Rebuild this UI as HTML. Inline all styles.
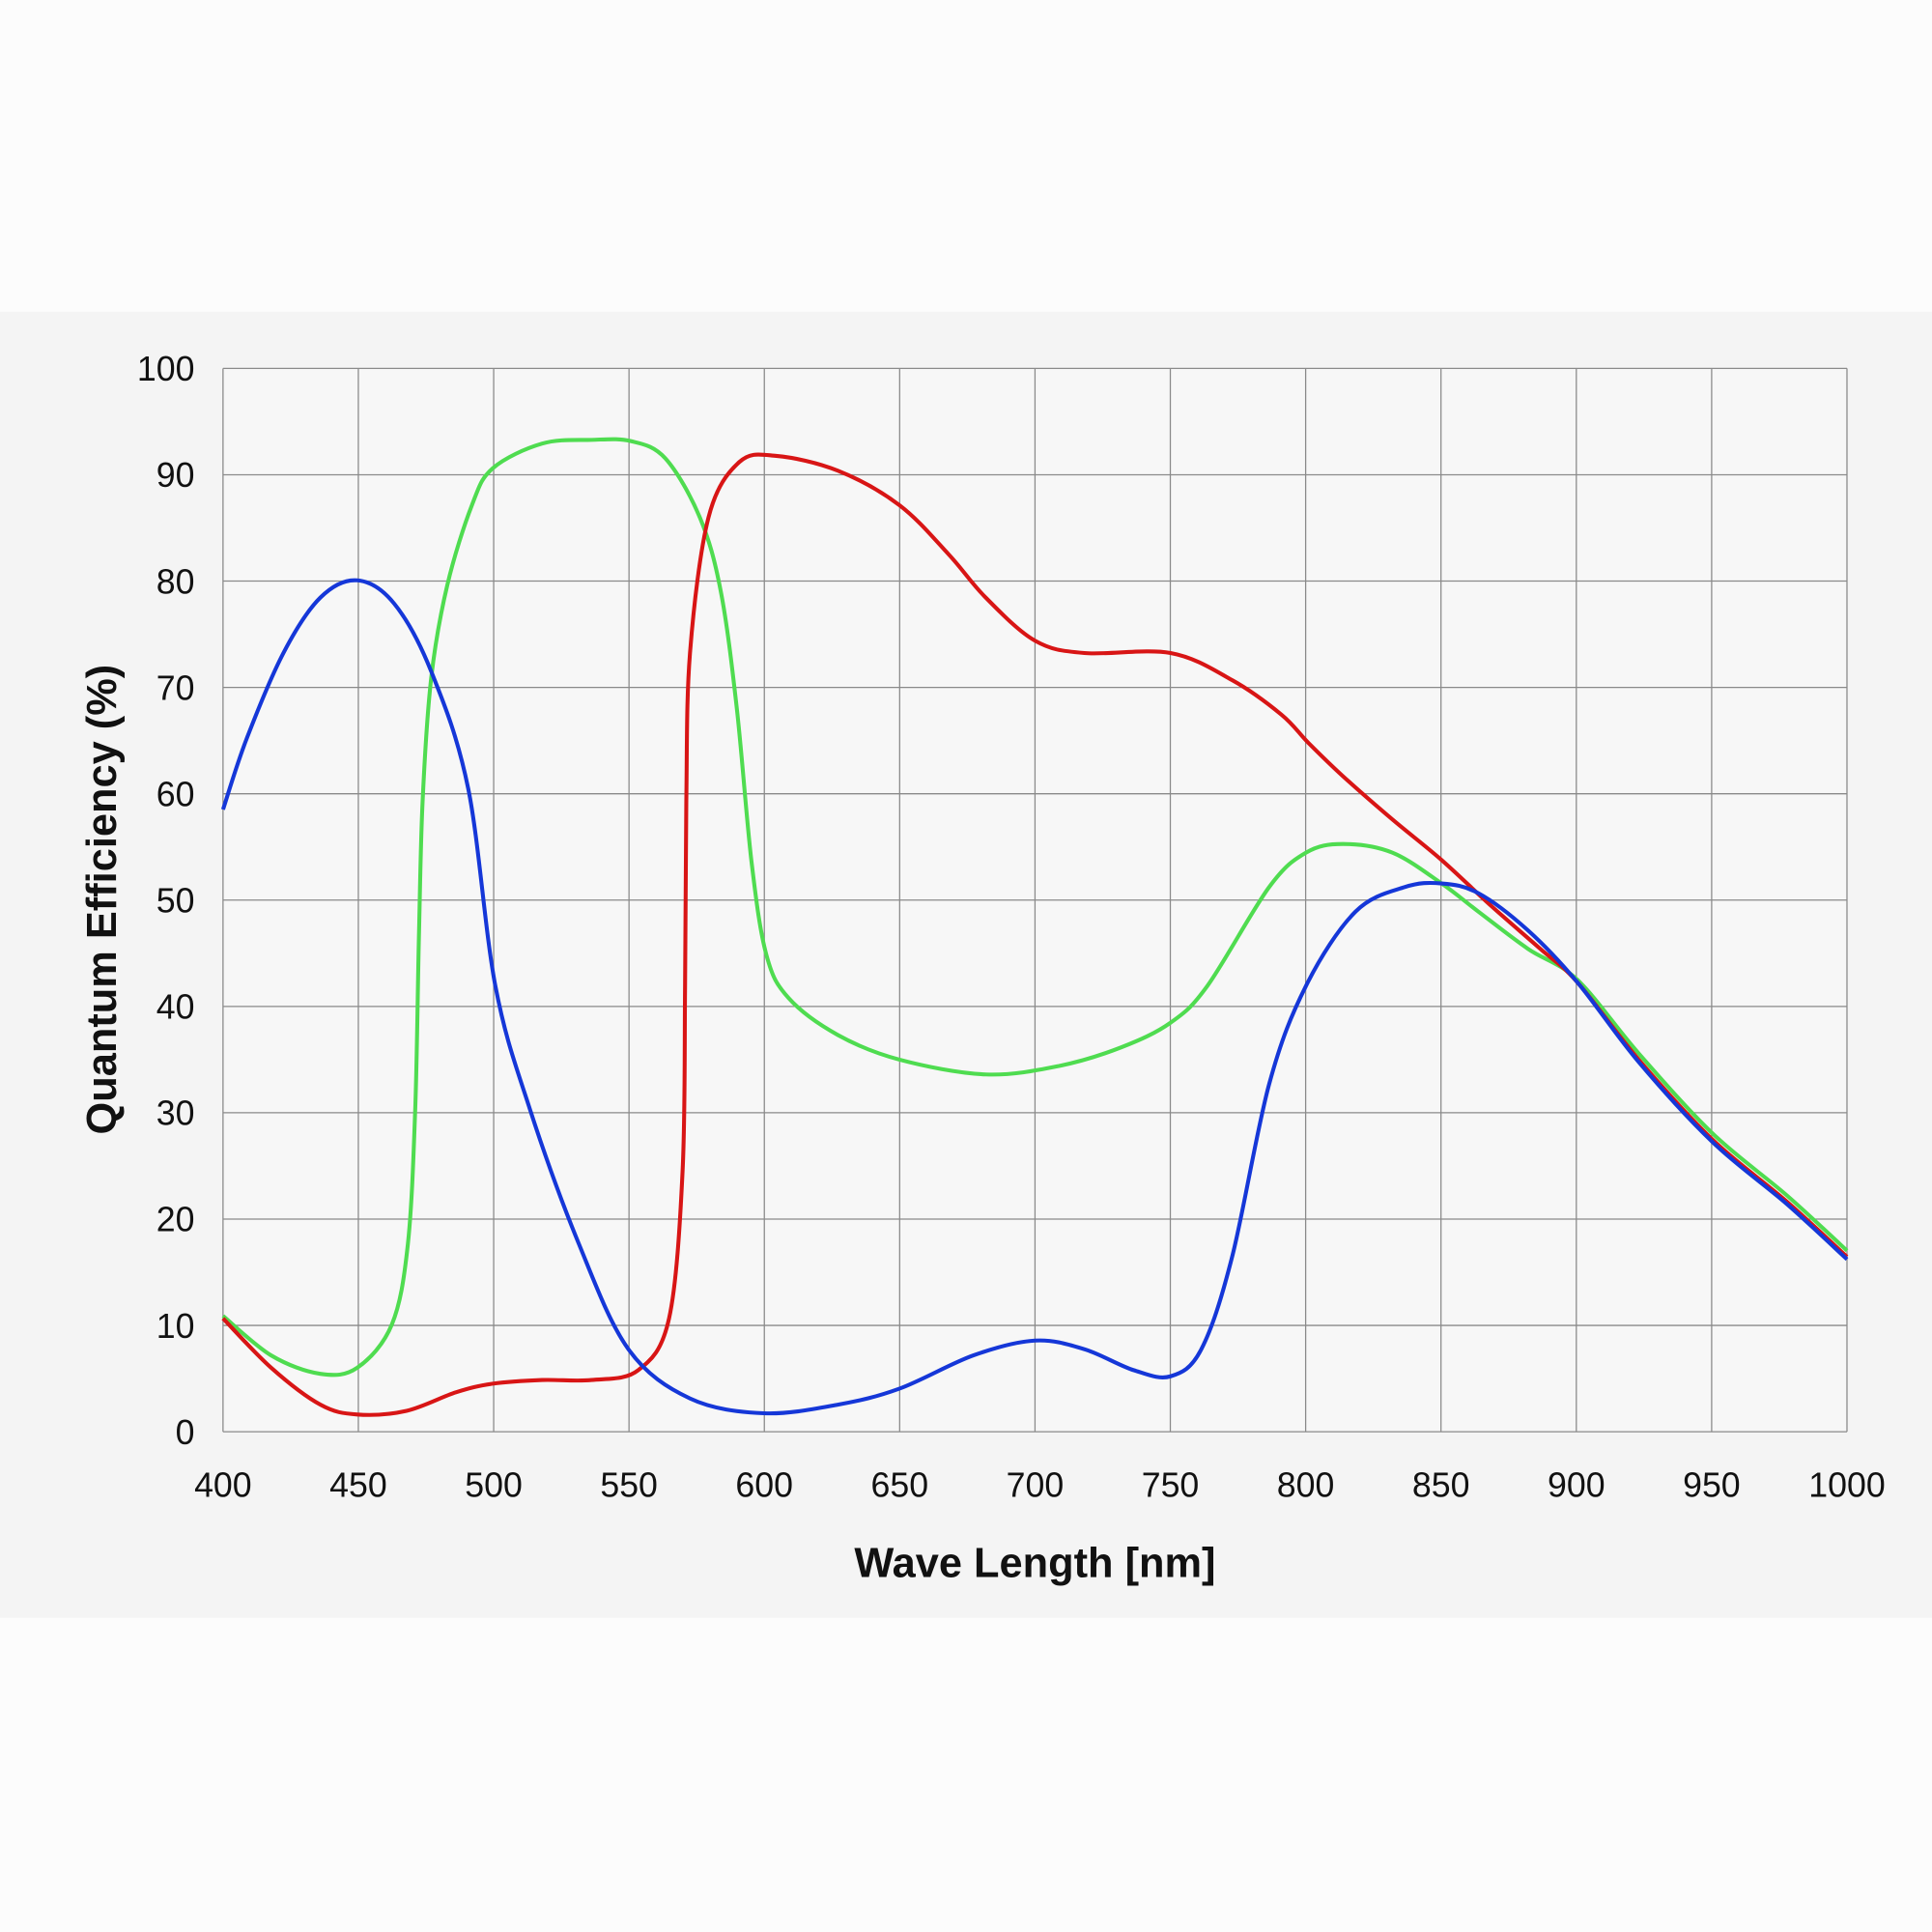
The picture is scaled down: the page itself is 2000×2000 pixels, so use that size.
<!DOCTYPE html>
<html><head><meta charset="utf-8"><style>
html,body{margin:0;padding:0;background:#fcfcfc;}
svg{display:block}
text{font-family:"Liberation Sans",sans-serif;fill:#111}
</style></head><body>
<svg id="s" width="2000" height="2000" viewBox="0 0 1568 1568" xmlns="http://www.w3.org/2000/svg">
<rect x="0" y="0" width="1568" height="1568" fill="#fcfcfc"/>
<rect x="0" y="253" width="1568" height="1060" fill="#f4f4f4"/>
<rect x="181" y="299" width="1318" height="863" fill="#f7f7f7"/>
<g id="grid" stroke="#8a8a8a" stroke-width="1"></g>
<g id="labels" font-size="28"></g>
<text x="840" y="1280" font-size="34" font-weight="bold" text-anchor="middle">Wave Length [nm]</text>
<text transform="translate(94,730) rotate(-90)" font-size="34" font-weight="bold" text-anchor="middle">Quantum Efficiency (%)</text>
<g id="curves" fill="none" stroke-width="3.2"></g>
</svg>
<script>
var NS="http://www.w3.org/2000/svg";
var g=document.getElementById('grid'),L=document.getElementById('labels'),C=document.getElementById('curves');
function el(p,t,a,txt){var e=document.createElementNS(NS,t);for(var k in a)e.setAttribute(k,a[k]);if(txt!==undefined)e.textContent=txt;p.appendChild(e);return e;}
for(var i=0;i<=12;i++){var x=181+i*1318/12;el(g,'line',{x1:x,y1:299,x2:x,y2:1162});
el(L,'text',{x:x,y:1215,'text-anchor':'middle'},String(400+i*50));}
for(var j=0;j<=10;j++){var y=1162-j*86.3;el(g,'line',{x1:181,y1:y,x2:1499,y2:y});
el(L,'text',{x:158,y:y+10,'text-anchor':'end'},String(j*10));}
function cr(P){var d='M'+P[0][0]+','+P[0][1];for(var i=0;i<P.length-1;i++){var p0=P[i-1]||P[i],p1=P[i],p2=P[i+1],p3=P[i+2]||P[i+1];
d+=' C'+(p1[0]+(p2[0]-p0[0])/6)+','+(p1[1]+(p2[1]-p0[1])/6)+' '+(p2[0]-(p3[0]-p1[0])/6)+','+(p2[1]-(p3[1]-p1[1])/6)+' '+p2[0]+','+p2[1];}return d;}
var green=[[181,1068],[220,1100],[260,1115],[290,1110],[318,1075],[331,1010],[337,900],[340,760],[343,650],[350,550],[363,475],[383,410],[400,380],[440,360],[480,357],[512,358],[540,372],[568,420],[585,480],[598,575],[610,700],[622,775],[640,810],[680,840],[730,860],[800,872],[860,865],[910,850],[950,830],[980,800],[1030,720],[1060,692],[1090,685],[1130,692],[1170,717],[1200,740],[1240,770],[1280,795],[1330,855],[1390,920],[1450,970],[1499,1015]];
var red=[[181,1070],[220,1110],[260,1140],[290,1148],[330,1145],[370,1130],[400,1123],[440,1120],[480,1120],[518,1112],[543,1070],[554,950],[556,800],[557,650],[560,530],[575,420],[600,375],[630,370],[680,382],[730,410],[770,450],[800,485],[840,520],[880,530],[950,530],[1000,552],[1040,580],[1062,603],[1090,630],[1130,665],[1170,698],[1210,735],[1250,770],[1280,797],[1330,860],[1390,925],[1450,975],[1499,1020]];
var blue=[[181,657],[200,600],[230,530],[260,485],[290,471],[320,490],[350,545],[380,640],[402,800],[430,900],[470,1010],[510,1095],[560,1135],[620,1147],[680,1140],[730,1127],[790,1100],[840,1088],[880,1095],[920,1112],[950,1117],[975,1095],[1000,1020],[1030,880],[1060,800],[1100,740],[1140,720],[1170,717],[1200,725],[1240,755],[1280,797],[1330,862],[1390,927],[1450,977],[1499,1022]];
el(C,'path',{d:cr(green),stroke:'#4fdc50'});
el(C,'path',{d:cr(red),stroke:'#d81515'});
el(C,'path',{d:cr(blue),stroke:'#1537d8'});
</script>
</body></html>
